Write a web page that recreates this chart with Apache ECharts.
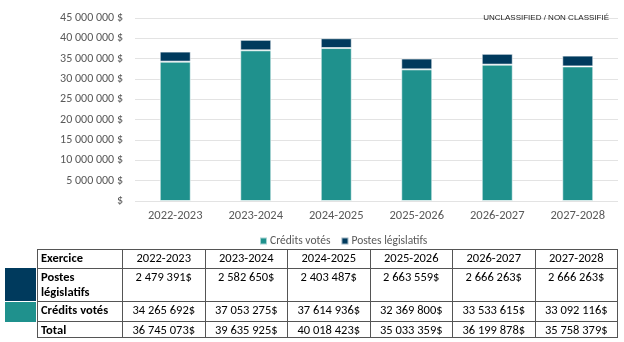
<!DOCTYPE html>
<html><head><meta charset="utf-8">
<script src="https://cdn.jsdelivr.net/npm/echarts@6/dist/echarts.min.js"></script>
<style>
html,body{margin:0;padding:0;background:#fff;}
#c{position:absolute;left:0;top:0;width:624px;height:342px;}
#t{position:absolute;left:37px;top:249px;border-collapse:collapse;font-family:Carlito,Lato,sans-serif;font-size:12.5px;color:#000;}
#t td{border:1px solid #555;padding:0 3px;line-height:15px;text-align:center;vertical-align:top;box-sizing:border-box;}
#t td.h{text-align:left;font-weight:bold;width:85px;}
#t td.v{width:82.5px;}
#sw1{position:absolute;left:5px;top:268px;width:31px;height:33px;background:#003a5d;}
#sw2{position:absolute;left:5px;top:302px;width:31px;height:20px;background:#1f918d;}
</style></head>
<body>
<div id="c"></div>
<div id="sw1"></div><div id="sw2"></div>
<table id="t"></table>
<script>
const categories = ['2022-2023','2023-2024','2024-2025','2025-2026','2026-2027','2027-2028'];
const creditsVotes = [34265692, 37053275, 37614936, 32369800, 33533615, 33092116];
const postesLegislatifs = [2479391, 2582650, 2403487, 2663559, 2666263, 2666263];
const totals = [36745073, 39635925, 40018423, 35033359, 36199878, 35758379];
const yTicks = [0, 5000000, 10000000, 15000000, 20000000, 25000000, 30000000, 35000000, 40000000, 45000000];

const fmt = v => String(v).replace(/\B(?=(\d{3})+(?!\d))/g, ' ');

const chart = echarts.init(document.getElementById('c'));
chart.setOption({
  animation: false,
  textStyle: {fontFamily: 'Carlito, Lato, sans-serif'},
  title: {text: 'UNCLASSIFIED / NON CLASSIFIÉ', right: 10, top: 9,
    textStyle: {fontSize: 8, fontWeight: 'normal', color: '#222', fontFamily: 'Liberation Sans, Arial, sans-serif'}},
  legend: {data: ['Crédits votés', 'Postes législatifs'], top: 230, left: 254, itemWidth: 7, itemHeight: 7, itemGap: 10,
    icon: 'rect', textStyle: {color: '#595959', fontSize: 11.5, padding: [0,0,0,-2]}},
  grid: {left: 135, right: 6, top: 18, bottom: 141},
  xAxis: {type: 'category', data: categories,
    axisLine: {show: false}, axisTick: {show: false},
    axisLabel: {color: '#595959', fontSize: 12.5, margin: 8}},
  yAxis: {type: 'value', min: yTicks[0], max: yTicks[yTicks.length-1], interval: 5000000,
    axisLabel: {color: '#595959', fontSize: 12, margin: 12, formatter: v => v === 0 ? '$' : fmt(v) + ' $'},
    splitLine: {lineStyle: {color: '#e3e3e3', width: 1}}},
  series: [
    {name: 'Crédits votés', type: 'bar', stack: 's', barWidth: 31, data: creditsVotes,
      itemStyle: {color: '#1f918d', borderColor: 'rgba(255,255,255,0.6)', borderWidth: 1}},
    {name: 'Postes législatifs', type: 'bar', stack: 's', barWidth: 31, data: postesLegislatifs,
      itemStyle: {color: '#003a5d', borderColor: 'rgba(255,255,255,0.6)', borderWidth: 1}}
  ]
});

const t = document.getElementById('t');
function row(label, vals, h){
  const tr = document.createElement('tr');
  tr.style.height = h + 'px';
  const th = document.createElement('td'); th.className = 'h'; th.innerHTML = label; th.style.height = h + 'px';
  tr.appendChild(th);
  vals.forEach(v => { const td = document.createElement('td'); td.className = 'v'; td.textContent = v; td.style.height = h + 'px'; tr.appendChild(td); });
  t.appendChild(tr);
}
row('Exercice', categories, 19);
row('Postes<br>législatifs', postesLegislatifs.map(v => fmt(v) + '$'), 33);
row('Crédits votés', creditsVotes.map(v => fmt(v) + '$'), 20);
row('Total', totals.map(v => fmt(v) + '$'), 16);
</script>
</body></html>
